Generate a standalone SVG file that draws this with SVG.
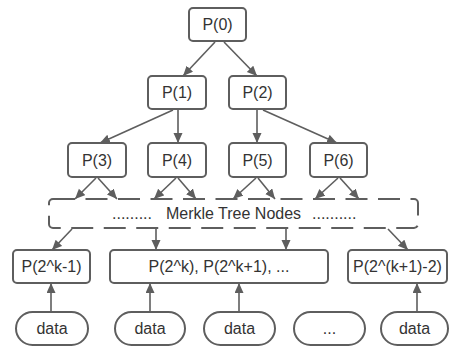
<svg xmlns="http://www.w3.org/2000/svg" width="450" height="348" viewBox="0 0 450 348">
<style>
.box{fill:#fff;stroke:#5e5e5e;stroke-width:2}
.dash{fill:none;stroke:#5e5e5e;stroke-width:2;stroke-dasharray:22 10.5}
.t{font-family:"Liberation Sans",Arial,sans-serif;font-size:16px;fill:#333;text-anchor:middle}
.tl{font-family:"Liberation Sans",Arial,sans-serif;font-size:16px;fill:#333}
.e{stroke:#5e5e5e;stroke-width:1.6;fill:none;marker-end:url(#ah)}
</style>
<defs>
<marker id="ah" markerUnits="userSpaceOnUse" markerWidth="11" markerHeight="10" refX="10" refY="4.5" orient="auto">
<path d="M0,0 L10,4.5 L0,9 z" fill="#5e5e5e"/>
</marker>
</defs>
<rect width="450" height="348" fill="#fff"/>
<g id="connectors">
<line class="e" x1="215" y1="42" x2="183" y2="76"/>
<line class="e" x1="224" y1="42" x2="257" y2="76"/>
<line class="e" x1="173" y1="110" x2="100" y2="143"/>
<line class="e" x1="178" y1="110" x2="178" y2="143"/>
<line class="e" x1="257" y1="110" x2="257" y2="143"/>
<line class="e" x1="263" y1="110" x2="337" y2="143"/>
<line class="e" x1="96" y1="178" x2="75" y2="199"/>
<line class="e" x1="98" y1="178" x2="117" y2="199"/>
<line class="e" x1="176" y1="178" x2="154" y2="199"/>
<line class="e" x1="178" y1="178" x2="196" y2="199"/>
<line class="e" x1="256" y1="178" x2="233" y2="199"/>
<line class="e" x1="258" y1="178" x2="275" y2="199"/>
<line class="e" x1="338" y1="178" x2="315" y2="199"/>
<line class="e" x1="340" y1="178" x2="359" y2="199"/>
<line class="e" x1="72" y1="229" x2="52" y2="250"/>
<line class="e" x1="156" y1="229" x2="156" y2="250"/>
<line class="e" x1="286" y1="229" x2="286" y2="250"/>
<line class="e" x1="388" y1="229" x2="408" y2="250"/>
<line class="e" x1="51" y1="312" x2="51" y2="283"/>
<line class="e" x1="150" y1="312" x2="150" y2="283"/>
<line class="e" x1="239" y1="312" x2="239" y2="283"/>
<line class="e" x1="417" y1="312" x2="417" y2="283"/>
</g>
<g id="p0"><rect class="box" x="189" y="8" width="57" height="33" rx="4"/><text class="t" x="217.5" y="30">P(0)</text></g>
<g id="p1"><rect class="box" x="148" y="76" width="58" height="33" rx="4"/><text class="t" x="177" y="98">P(1)</text></g>
<g id="p2"><rect class="box" x="229" y="76" width="57" height="33" rx="4"/><text class="t" x="257.5" y="98">P(2)</text></g>
<g id="p3"><rect class="box" x="68" y="143" width="58" height="34" rx="4"/><text class="t" x="97" y="166">P(3)</text></g>
<g id="p4"><rect class="box" x="148" y="143" width="58" height="34" rx="4"/><text class="t" x="177" y="166">P(4)</text></g>
<g id="p5"><rect class="box" x="229" y="143" width="57" height="34" rx="4"/><text class="t" x="257.5" y="166">P(5)</text></g>
<g id="p6"><rect class="box" x="310" y="143" width="57" height="34" rx="4"/><text class="t" x="338.5" y="166">P(6)</text></g>
<g id="merkle"><rect class="dash" x="49" y="199" width="369" height="29" rx="4"/>
<text class="tl" x="112" y="219">.........</text>
<text class="t" x="233.5" y="219">Merkle Tree Nodes</text>
<text class="tl" x="312" y="219">..........</text></g>
<g id="b1"><rect class="box" x="13" y="250" width="77" height="33" rx="4"/><text class="t" x="51.5" y="272">P(2^k-1)</text></g>
<g id="b2"><rect class="box" x="110" y="250" width="218" height="33" rx="4"/><text class="t" x="219" y="272">P(2^k), P(2^k+1), ...</text></g>
<g id="b3"><rect class="box" x="348" y="250" width="99" height="33" rx="4"/><text class="t" x="397.5" y="272">P(2^(k+1)-2)</text></g>
<g id="d1"><rect class="box" x="16" y="312" width="72" height="33" rx="16.5"/><text class="t" x="52" y="334">data</text></g>
<g id="d2"><rect class="box" x="115" y="312" width="70" height="33" rx="16.5"/><text class="t" x="150" y="334">data</text></g>
<g id="d3"><rect class="box" x="204" y="312" width="71" height="33" rx="16.5"/><text class="t" x="239.5" y="334">data</text></g>
<g id="d4"><rect class="box" x="294" y="312" width="71" height="33" rx="16.5"/><text class="t" x="329.5" y="334">...</text></g>
<g id="d5"><rect class="box" x="381" y="312" width="67" height="33" rx="16.5"/><text class="t" x="414.5" y="334">data</text></g>
</svg>
